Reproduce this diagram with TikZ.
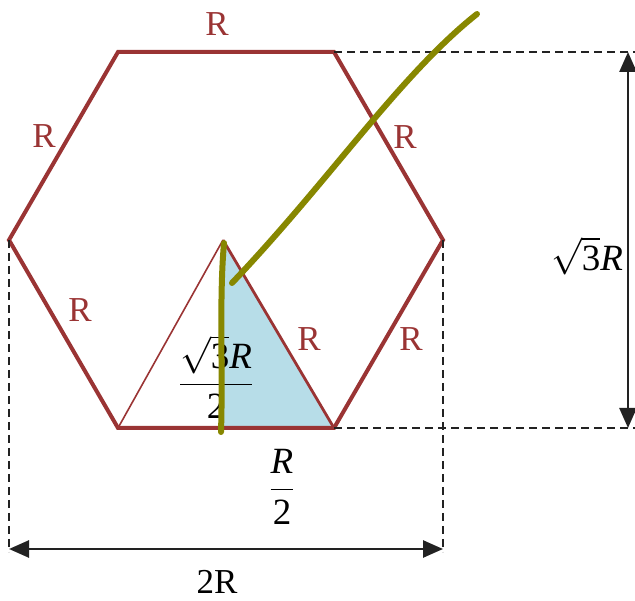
\RequirePackage{fix-cm}
\documentclass[tikz,border=0pt]{standalone}
\usepackage{amsmath}
\usepackage{fontspec}
\setmainfont{Liberation Serif}
\usetikzlibrary{arrows.meta,calc}
\definecolor{hexred}{HTML}{9A3434}
\definecolor{triblue}{HTML}{B7DDE8}
\definecolor{penolive}{HTML}{878700}
\definecolor{dimgray}{HTML}{222222}
\newcommand{\rootthree}{\sqrt{\textrm{3}}\textit{R}}
\tikzset{
  hexlab/.style={text=hexred, font=\fontsize{35}{37}\selectfont, inner sep=0pt},
  mathlab/.style={font=\fontsize{37}{39}\selectfont, inner sep=0pt},
  dimline/.style={dimgray, line width=1.8pt, dash pattern=on 8pt off 5pt},
  dimarrow/.style={dimgray, line width=2.6pt, {Triangle[length=20pt,width=17pt]}-{Triangle[length=20pt,width=17pt]}},
  penstroke/.style={penolive, line width=6pt, line cap=round, line join=round}
}
\begin{document}
\begin{tikzpicture}[x=1pt,y=-1pt]
\useasboundingbox (0,0) rectangle (635,601);
% hexagon corners
\coordinate (tl) at (118,52);
\coordinate (tr) at (334,52);
\coordinate (rr) at (443,240);
\coordinate (br) at (334,428);
\coordinate (bl) at (118,428);
\coordinate (ll) at (9,240);
\coordinate (apex) at (223,240);
\coordinate (foot) at (223,428);
% shaded half of the inner triangle
\fill[triblue] (apex) -- (br) -- (foot) -- cycle;
\draw[hexred, line width=1.6pt] (bl) -- (apex);
\draw[hexred, line width=2.8pt] (apex) -- (br);
% hexagon
\draw[hexred, line width=4pt, line join=miter] (tl) -- (tr) -- (rr) -- (br) -- (bl) -- (ll) -- cycle;
% dimension helpers
\coordinate (vtop) at (628,52);
\coordinate (vbot) at (628,428);
\coordinate (hl) at (9,549);
\coordinate (hr) at (443,549);
\draw[dimline] (tr) -- (635,52);
\draw[dimline] (br) -- (635,428);
\draw[dimline] (ll) -- (9,552);
\draw[dimline] (rr) -- (443,552);
\draw[dimarrow] (vtop) -- (vbot);
\draw[dimarrow] (hl) -- (hr);
% side labels
\node[hexlab] (ltop) at (217,24) {R};
\node[hexlab] (lul) at (44,136) {R};
\node[hexlab] (lur) at (405,137) {R};
\node[hexlab] (lll) at (80,310) {R};
\node[hexlab] (llr) at (411,339) {R};
\node[hexlab] (ltri) at (309,339) {R};
% dimension labels
\node[mathlab] (lheight) at (216,377) {$\dfrac{\rootthree}{\textrm{2}}$};
\node[mathlab] (lhalf) at (282,487) {$\dfrac{\textit{R}}{\textrm{2}}$};
\node[mathlab] (lside) at (587,256) {$\rootthree$};
\node[hexlab, text=black] (lwidth) at (217,582) {2R};
% pen marks
\draw[penstroke] (477,14) .. controls (400,75) and (330,180) .. (232,283);
\draw[penstroke] (224,243) .. controls (219,300) and (223,370) .. (221,432);
\end{tikzpicture}
\end{document}
